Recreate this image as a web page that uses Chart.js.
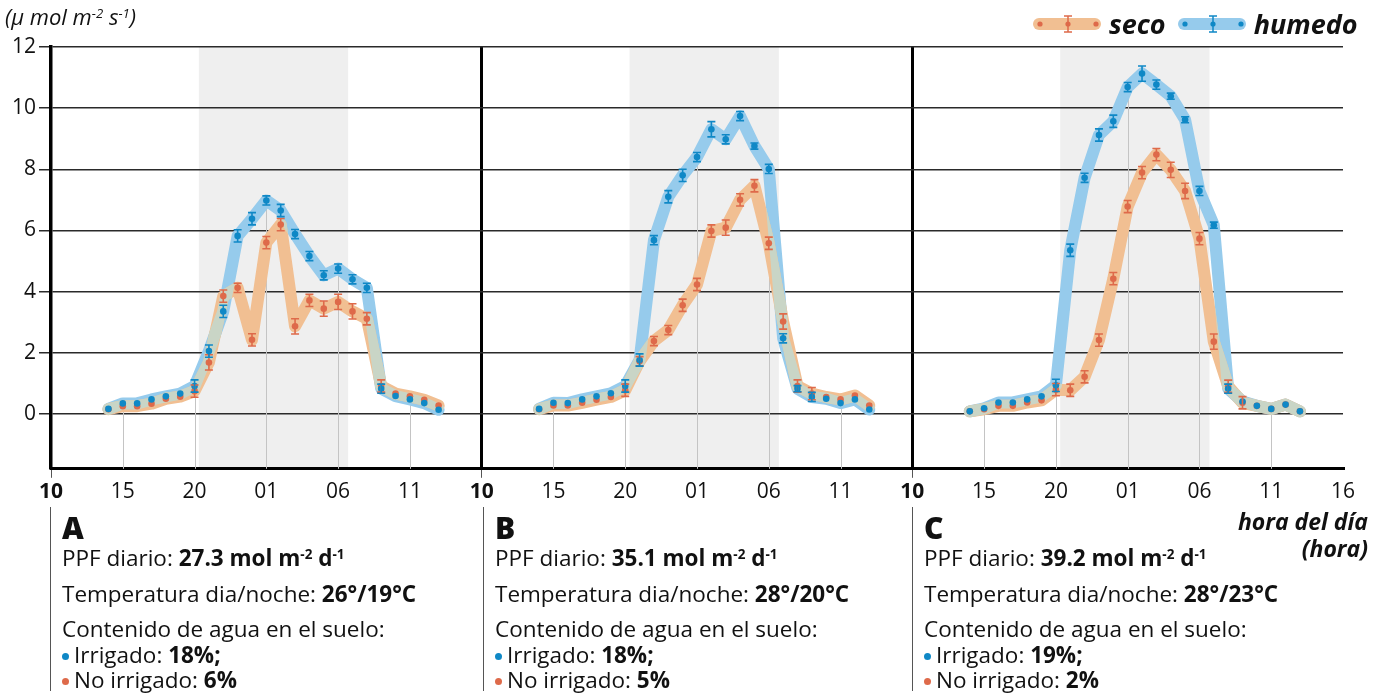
<!DOCTYPE html>
<html lang="es">
<head>
<meta charset="utf-8">
<title>Fotosíntesis nocturna</title>
<script src="https://cdn.jsdelivr.net/npm/chart.js@4.4.1/dist/chart.umd.min.js"></script>
<style>
  body { margin: 0; background: #fff; font-family: "Open Sans", "Noto Sans", sans-serif; color: #111; }
  #wrap { position: relative; width: 1384px; height: 693px; overflow: hidden; }
  #grafico { position: absolute; left: 0; top: 0; }
  .ytitulo { position: absolute; left: 5px; top: 1px; font-style: italic; font-size: 22px; }
  .ytitulo sup, .info sup { font-size: 0.6em; vertical-align: 0.55em; line-height: 0; }
  .xtitulo { position: absolute; right: 16px; top: 508px; text-align: right; font-style: italic; font-weight: 700; font-size: 23px; line-height: 27px; }
  .leyenda { position: absolute; top: 5px; left: 1032px; display: flex; align-items: center; font-style: italic; font-weight: 700; font-size: 27px; }
  .leyenda svg { margin-right: 7px; }
  .leyenda span { margin-right: 11px; }
  .info { position: absolute; top: 507px; height: 184px; border-left: 1.5px solid #555; width: 420px; }
  .info div { position: absolute; left: 11px; white-space: nowrap; font-size: 22.5px; line-height: 30px; }
  .info .letra { font-size: 30px; font-weight: 800; top: 6px; }
  .info .punto { display: inline-block; width: 7px; height: 7px; border-radius: 50%; margin-right: 5px; vertical-align: 3px; }
</style>
</head>
<body>
<div id="wrap">
  <canvas id="grafico" width="1384" height="693"></canvas>
  <div class="ytitulo">(μ mol m<sup>-2</sup> s<sup>-1</sup>)</div>
  <div class="leyenda">
    <svg width="70" height="18"><rect x="1" y="3" width="68" height="12" rx="6" fill="#f1bf92"/><circle cx="8" cy="9" r="2.6" fill="#de6a4a"/><circle cx="64" cy="9" r="2.6" fill="#de6a4a"/><circle cx="36" cy="9" r="2.6" fill="#de6a4a"/><path d="M36 1V17M32 1H40M32 17H40" stroke="#de6a4a" stroke-width="1.5"/></svg>
    <span>seco</span>
    <svg width="70" height="18"><rect x="1" y="3" width="68" height="12" rx="6" fill="#96cbec"/><circle cx="8" cy="9" r="2.6" fill="#0f88c6"/><circle cx="64" cy="9" r="2.6" fill="#0f88c6"/><circle cx="36" cy="9" r="2.6" fill="#0f88c6"/><path d="M36 1V17M32 1H40M32 17H40" stroke="#0f88c6" stroke-width="1.5"/></svg>
    <span>humedo</span>
  </div>
  <div class="xtitulo">hora del día<br>(hora)</div>
  <div id="infos"></div>
</div>
<script>
// horas desde la medianoche del primer día (14 h ... 13 h del día siguiente)
const horas = [14, 15, 16, 17, 18, 19, 20, 21, 22, 23, 24, 25, 26, 27, 28, 29, 30, 31, 32, 33, 34, 35, 36, 37];

// A
const humedoA = [0.16, 0.34, 0.34, 0.47, 0.57, 0.66, 0.91, 2.05, 3.35, 5.82, 6.38, 6.98, 6.65, 5.88, 5.16, 4.53, 4.75, 4.4, 4.12, 0.82, 0.58, 0.47, 0.35, 0.13];
const secoA = [0.15, 0.25, 0.25, 0.33, 0.49, 0.56, 0.74, 1.68, 3.85, 4.12, 2.42, 5.6, 6.19, 2.86, 3.71, 3.44, 3.66, 3.35, 3.11, 0.91, 0.66, 0.57, 0.46, 0.27];
const errHumedoA = [0, 0, 0, 0, 0, 0, 0.2, 0.2, 0.2, 0.2, 0.2, 0.15, 0.2, 0.15, 0.15, 0.15, 0.15, 0.15, 0.15, 0.15, 0, 0, 0, 0];
const errSecoA = [0, 0, 0, 0, 0, 0, 0.2, 0.25, 0.2, 0.15, 0.2, 0.2, 0.2, 0.25, 0.2, 0.25, 0.25, 0.25, 0.2, 0.2, 0, 0, 0, 0];
// B
const humedoB = [0.16, 0.36, 0.35, 0.47, 0.57, 0.67, 0.91, 1.76, 5.68, 7.1, 7.8, 8.4, 9.31, 8.98, 9.74, 8.76, 8.01, 2.47, 0.82, 0.55, 0.49, 0.35, 0.47, 0.14];
const secoB = [0.15, 0.27, 0.27, 0.36, 0.46, 0.55, 0.77, 1.72, 2.38, 2.74, 3.55, 4.23, 5.98, 6.09, 7.0, 7.46, 5.58, 3.02, 0.91, 0.66, 0.55, 0.47, 0.6, 0.27];
const errHumedoB = [0, 0, 0, 0, 0, 0, 0.2, 0.2, 0.15, 0.2, 0.2, 0.15, 0.25, 0.15, 0.15, 0.1, 0.15, 0.15, 0.1, 0.15, 0, 0, 0, 0];
const errSecoB = [0, 0, 0, 0, 0, 0, 0.2, 0.15, 0.15, 0.15, 0.2, 0.2, 0.2, 0.25, 0.2, 0.2, 0.2, 0.25, 0.2, 0.2, 0, 0, 0, 0];
// C
const humedoC = [0.08, 0.18, 0.37, 0.37, 0.47, 0.57, 0.93, 5.35, 7.72, 9.12, 9.57, 10.69, 11.13, 10.77, 10.39, 9.62, 7.29, 6.17, 0.82, 0.4, 0.26, 0.16, 0.3, 0.08];
const secoC = [0.08, 0.15, 0.26, 0.26, 0.37, 0.44, 0.79, 0.77, 1.21, 2.41, 4.42, 6.78, 7.89, 8.48, 7.98, 7.29, 5.73, 2.36, 0.9, 0.36, 0.26, 0.16, 0.3, 0.08];
const errHumedoC = [0, 0, 0, 0, 0, 0, 0.2, 0.2, 0.15, 0.2, 0.2, 0.15, 0.25, 0.15, 0.1, 0.1, 0.15, 0.1, 0.15, 0, 0, 0, 0, 0];
const errSecoC = [0, 0, 0, 0, 0, 0, 0.2, 0.2, 0.2, 0.2, 0.2, 0.2, 0.2, 0.2, 0.25, 0.25, 0.2, 0.25, 0.2, 0.2, 0, 0, 0, 0];

const paneles = ['A', 'B', 'C'];
const ppf = ['27.3', '35.1', '39.2'];
const tempDia = ['26°', '28°', '28°'];
const tempNoche = ['19°', '20°', '23°'];
const aguaIrrigado = ['18%;', '18%;', '19%;'];
const aguaNoIrrigado = ['6%', '5%', '2%'];
const ticksY = [0, 2, 4, 6, 8, 10, 12];
const nocheDesde = 20.3, nocheHasta = 30.7;   // periodo oscuro (sombreado)
const horasGuia = [15, 20, 25, 30, 35];       // lineas verticales finas

const humedo = [humedoA, humedoB, humedoC];
const seco = [secoA, secoB, secoC];
const errHumedo = [errHumedoA, errHumedoB, errHumedoC];
const errSeco = [errSecoA, errSecoB, errSecoC];

const AZUL = '#0f88c6', NARANJA = '#de6a4a';
const BANDA_AZUL = '#96cbec', BANDA_NARANJA = '#f1bf92', SOLAPE = '#c9d5c6';
const ANCHO_BANDA = 12;
const FUENTE = '"Open Sans", "Noto Sans", sans-serif';

// textos debajo de cada panel
const infos = document.getElementById('infos');
const izq = [50, 483, 912];
paneles.forEach((p, k) => {
  const d = document.createElement('div');
  d.className = 'info';
  d.style.left = izq[k] + 'px';
  d.innerHTML =
    `<div class="letra">${p}</div>` +
    `<div style="top:36px">PPF diario: <b>${ppf[k]} mol m<sup>-2</sup> d<sup>-1</sup></b></div>` +
    `<div style="top:72px">Temperatura dia/noche: <b>${tempDia[k]}/${tempNoche[k]}C</b></div>` +
    `<div style="top:107px">Contenido de agua en el suelo:</div>` +
    `<div style="top:133px"><span class="punto" style="background:${AZUL}"></span>Irrigado: <b>${aguaIrrigado[k]}</b></div>` +
    `<div style="top:158px"><span class="punto" style="background:${NARANJA}"></span>No irrigado: <b>${aguaNoIrrigado[k]}</b></div>`;
  infos.appendChild(d);
});

const pts = (arr, k) => arr.map((v, i) => ({ x: horas[i] + 30 * k, y: v }));
const datasets = [];
paneles.forEach((p, k) => {
  datasets.push({ rol: 'bandaH', panel: k, data: pts(humedo[k], k), borderColor: BANDA_AZUL, borderWidth: ANCHO_BANDA,
    pointRadius: 0, borderJoinStyle: 'round', borderCapStyle: 'round', order: 3 });
  datasets.push({ rol: 'bandaS', panel: k, data: pts(seco[k], k), borderColor: BANDA_NARANJA, borderWidth: ANCHO_BANDA,
    pointRadius: 0, borderJoinStyle: 'round', borderCapStyle: 'round', order: 2 });
  datasets.push({ rol: 'puntosS', data: pts(seco[k], k), showLine: false, pointRadius: 3.3,
    pointBackgroundColor: NARANJA, pointBorderWidth: 0, order: 1 });
  datasets.push({ rol: 'puntosH', data: pts(humedo[k], k), showLine: false, pointRadius: 3.3,
    pointBackgroundColor: AZUL, pointBorderWidth: 0, order: 0 });
});

const trazo = (c, p) => {
  c.beginPath();
  p.forEach((q, i) => i ? c.lineTo(q.x, q.y) : c.moveTo(q.x, q.y));
  c.stroke();
};

const fondo = {
  id: 'fondo',
  beforeDraw(chart) {
    const { ctx, chartArea: a, scales: { x } } = chart;
    ctx.save();
    ctx.fillStyle = '#efefef';
    for (let k = 0; k < 3; k++) {
      const x0 = x.getPixelForValue(nocheDesde + 30 * k), x1 = x.getPixelForValue(nocheHasta + 30 * k);
      ctx.fillRect(x0, a.top, x1 - x0, a.bottom - a.top);
    }
    ctx.restore();
  },
  beforeDatasetsDraw(chart) {
    const { ctx, chartArea: a, scales: { x, y } } = chart;
    ctx.save();
    ctx.strokeStyle = '#c4c4c4';
    ctx.lineWidth = 1;
    for (let k = 0; k < 3; k++) {
      horasGuia.forEach(h => {
        const i = horas.indexOf(h);
        const top = Math.max(humedo[k][i], seco[k][i]);
        const px = Math.round(x.getPixelForValue(h + 30 * k)) + 0.5;
        ctx.beginPath();
        ctx.moveTo(px, y.getPixelForValue(top));
        ctx.lineTo(px, a.bottom);
        ctx.stroke();
      });
    }
    ctx.restore();
  },
  afterDatasetDraw(chart, args) {
    const ds = chart.data.datasets[args.index];
    if (ds.rol !== 'bandaS') return;
    // zona donde se cruzan las dos bandas
    const iH = chart.data.datasets.findIndex(d => d.rol === 'bandaH' && d.panel === ds.panel);
    const pS = args.meta.data, pH = chart.getDatasetMeta(iH).data;
    const off = document.createElement('canvas');
    off.width = chart.width; off.height = chart.height;
    const o = off.getContext('2d');
    o.lineWidth = ANCHO_BANDA; o.lineJoin = 'round'; o.lineCap = 'round'; o.strokeStyle = '#000';
    trazo(o, pS);
    o.globalCompositeOperation = 'destination-in';
    trazo(o, pH);
    o.globalCompositeOperation = 'source-in';
    o.fillStyle = SOLAPE;
    o.fillRect(0, 0, off.width, off.height);
    chart.ctx.drawImage(off, 0, 0, chart.width, chart.height);
  },
  afterDatasetsDraw(chart) {
    const { ctx, scales: { x, y } } = chart;
    ctx.save();
    ctx.lineWidth = 1.6;
    const barras = (vals, errs, k, color) => {
      ctx.strokeStyle = color;
      vals.forEach((v, i) => {
        const e = errs[i];
        if (!e) return;
        const px = x.getPixelForValue(horas[i] + 30 * k);
        const y0 = y.getPixelForValue(v + e), y1 = y.getPixelForValue(v - e);
        ctx.beginPath();
        ctx.moveTo(px, y0); ctx.lineTo(px, y1);
        ctx.moveTo(px - 4, y0); ctx.lineTo(px + 4, y0);
        ctx.moveTo(px - 4, y1); ctx.lineTo(px + 4, y1);
        ctx.stroke();
      });
    };
    for (let k = 0; k < 3; k++) {
      barras(seco[k], errSeco[k], k, NARANJA);
      barras(humedo[k], errHumedo[k], k, AZUL);
    }
    ctx.restore();
  }
};

const inicios = [10, 40, 70];
const etiqueta = v => {
  if (v === 100) return '16';
  const h = ((v - 10) % 30 + 10) % 24;
  return String(h).padStart(2, '0');
};

new Chart(document.getElementById('grafico'), {
  type: 'line',
  data: { datasets },
  plugins: [fondo],
  options: {
    responsive: false,
    animation: false,
    layout: { padding: { left: 9, right: 41, top: 47, bottom: 186 } },
    plugins: { legend: { display: false }, tooltip: { enabled: false } },
    scales: {
      x: {
        type: 'linear', min: 10, max: 100,
        grid: {
          color: c => (c.tick && (c.tick.value === 40 || c.tick.value === 70)) ? '#000' : 'rgba(0,0,0,0)',
          lineWidth: 3,
          tickColor: c => (c.tick && inicios.includes(c.tick.value)) ? '#555' : 'rgba(0,0,0,0)',
          tickWidth: 1,
          tickLength: 9
        },
        border: { display: true, color: '#000', width: 3 },
        ticks: {
          stepSize: 5, autoSkip: false, maxRotation: 0, color: '#111', padding: 2,
          callback: etiqueta,
          font: c => ({ family: FUENTE, size: 21, weight: (c.tick && inicios.includes(c.tick.value)) ? 'bold' : 'normal' })
        }
      },
      y: {
        min: -1.8, max: 12,
        afterBuildTicks: s => { s.ticks = ticksY.map(v => ({ value: v })); },
        grid: { color: '#2a2a2a', lineWidth: 1.5, tickLength: 12, tickColor: '#2a2a2a' },
        border: { display: true, color: '#000', width: 3.5 },
        ticks: { color: '#111', padding: 3, font: { family: FUENTE, size: 21 } }
      }
    }
  }
});
</script>
</body>
</html>
